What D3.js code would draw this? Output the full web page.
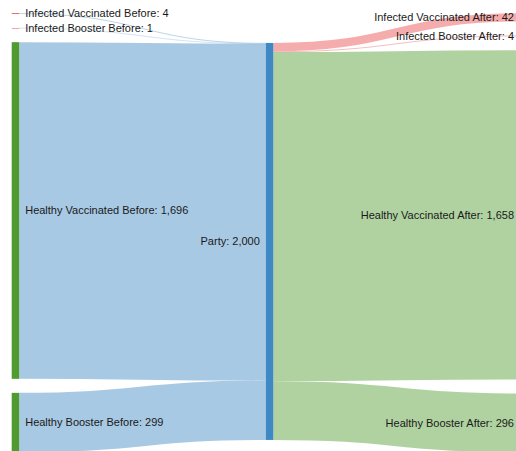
<!DOCTYPE html>
<html>
<head>
<meta charset="utf-8">
<script src="https://cdn.jsdelivr.net/npm/d3@7"></script>
<style>
  body { margin: 0; background: #fff; }
  svg { display: block; }
  .label { font-family: "Liberation Sans", Arial, Helvetica, sans-serif; font-size: 11px; fill: #1a1a1a; }
</style>
</head>
<body>
<svg id="view"></svg>
<script>

// nodes, in column order (top to bottom)
const nodeNames = ["Infected Vaccinated Before", "Infected Booster Before", "Healthy Vaccinated Before", "Healthy Booster Before",
                   "Party",
                   "Infected Vaccinated After", "Infected Booster After", "Healthy Vaccinated After", "Healthy Booster After"];
const nodeColumns = [0, 0, 0, 0, 1, 2, 2, 2, 2];
const nodeGroups = ["infected", "infected", "healthy", "healthy", "party", "infected", "infected", "healthy", "healthy"];

// links: source index -> target index, value
const linkSources = [0, 1, 2, 3, 4, 4, 4, 4];
const linkTargets = [4, 4, 4, 4, 5, 6, 7, 8];
const linkValues  = [4, 1, 1696, 299, 42, 4, 1658, 296];

const groupColor = {infected: "#e8474a", healthy: "#509b2f", party: "#3e88c3"};

const width = 516, height = 451;
const nodeWidth = 7.5, nodePadding = 14;
const extent = {x0: 11.7, x1: 520 + nodeWidth, y0: 13.2, y1: 452.2};

const svg = d3.select('#view')
    .attr("width", width)
    .attr("height", height);

// build nodes / links
const nodes = nodeNames.map((name, i) => ({name: name, col: nodeColumns[i], group: nodeGroups[i], index: i, inLinks: [], outLinks: []}));
const links = linkValues.map((v, i) => ({source: nodes[linkSources[i]], target: nodes[linkTargets[i]], value: v}));
links.forEach(l => { l.source.outLinks.push(l); l.target.inLinks.push(l); });
nodes.forEach(n => n.value = Math.max(d3.sum(n.inLinks, l => l.value), d3.sum(n.outLinks, l => l.value)));

const columns = d3.groups(nodes, n => n.col).map(g => g[1]);
const maxTotal = d3.max(columns, c => d3.sum(c, n => n.value));
const maxCount = d3.max(columns, c => c.length);

const x = d3.scaleLinear().domain([0, 2]).range([extent.x0, extent.x1 - nodeWidth]);
const y = d3.scaleLinear().domain([0, maxTotal]).range([0, extent.y1 - extent.y0 - (maxCount - 1) * nodePadding]);

// stack columns
columns.forEach(col => {
    let yy = extent.y0;
    col.forEach(n => {
        n.x0 = x(n.col);
        n.x1 = n.x0 + nodeWidth;
        n.y0 = yy;
        n.y1 = yy + y(n.value);
        yy = n.y1 + nodePadding;
    });
});

// centre the single middle node on its neighbours (weighted)
columns.filter(c => c.length === 1).forEach(col => {
    const n = col[0];
    const nb = n.inLinks.map(l => [l.source, l.value]).concat(n.outLinks.map(l => [l.target, l.value]));
    const c = d3.sum(nb, d => (d[0].y0 + d[0].y1) / 2 * d[1]) / d3.sum(nb, d => d[1]);
    const h = n.y1 - n.y0;
    n.y0 = c - h / 2;
    n.y1 = c + h / 2;
});

// link positions
nodes.forEach(n => {
    let sy = n.y0;
    n.outLinks.sort((a, b) => a.target.y0 - b.target.y0).forEach(l => {
        l.width = y(l.value);
        l.y0 = sy + l.width / 2;
        sy += l.width;
    });
    let ty = n.y0;
    n.inLinks.sort((a, b) => a.source.y0 - b.source.y0).forEach(l => {
        l.y1 = ty + y(l.value) / 2;
        ty += y(l.value);
    });
});

const linkPath = d3.linkHorizontal()
    .source(d => [d.source.x1, d.y0])
    .target(d => [d.target.x0, d.y1]);

svg.append("g")
    .attr("fill", "none")
    .selectAll("path")
    .data(links)
    .join("path")
    .attr("d", linkPath)
    .attr("stroke", d => groupColor[d.target.group])
    .attr("stroke-opacity", 0.45)
    .attr("stroke-width", d => Math.max(0.5, d.width));

svg.append("g")
    .selectAll("rect")
    .data(nodes)
    .join("rect")
    .attr("x", d => d.x0)
    .attr("y", d => d.y0)
    .attr("width", d => d.x1 - d.x0)
    .attr("height", d => Math.max(0.5, d.y1 - d.y0))
    .attr("fill", d => groupColor[d.group]);

// labels: left of the node once past the middle of the view
const fmt = d3.format(",");
svg.append("g")
    .selectAll("text")
    .data(nodes)
    .join("text")
    .attr("class", "label")
    .attr("x", d => d.x0 < width / 2 ? d.x1 + 6 : d.x0 - 6)
    .attr("y", d => (d.y0 + d.y1) / 2)
    .attr("dy", "0.35em")
    .attr("text-anchor", d => d.x0 < width / 2 ? "start" : "end")
    .text(d => d.name + ": " + fmt(d.value));

</script>
</body>
</html>
